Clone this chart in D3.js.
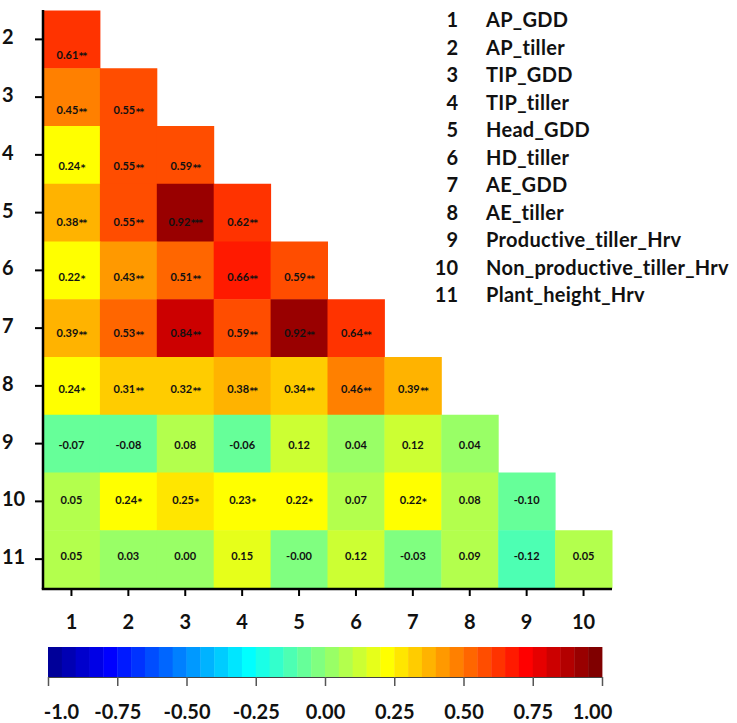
<!DOCTYPE html>
<html>
<head>
<meta charset="utf-8">
<script src="https://cdn.jsdelivr.net/npm/d3@7"></script>
<style>
  body { margin: 0; background: #fff; }
  svg { display: block; font-family: Lato, "Open Sans", sans-serif; }
</style>
</head>
<body>
<div id="chart"></div>
<script>
// Lower triangle of the trait correlation matrix
const rowLabels = [2, 3, 4, 5, 6, 7, 8, 9, 10, 11];
const colLabels = [1, 2, 3, 4, 5, 6, 7, 8, 9, 10];

const traitNames = [
  "AP_GDD", "AP_tiller", "TIP_GDD", "TIP_tiller", "Head_GDD", "HD_tiller",
  "AE_GDD", "AE_tiller", "Productive_tiller_Hrv", "Non_productive_tiller_Hrv",
  "Plant_height_Hrv"
];

// one array per row (row 2 .. row 11), columns 1 .. row-1
const corrValues = [
  [0.61],
  [0.45, 0.55],
  [0.24, 0.55, 0.59],
  [0.38, 0.55, 0.92, 0.62],
  [0.22, 0.43, 0.51, 0.66, 0.59],
  [0.39, 0.53, 0.84, 0.59, 0.92, 0.64],
  [0.24, 0.31, 0.32, 0.38, 0.34, 0.46, 0.39],
  [-0.07, -0.08, 0.08, -0.06, 0.12, 0.04, 0.12, 0.04],
  [0.05, 0.24, 0.25, 0.23, 0.22, 0.07, 0.22, 0.08, -0.10],
  [0.05, 0.03, 0.00, 0.15, -0.001, 0.12, -0.03, 0.09, -0.12, 0.05]
];

const sigStars = [
  ["**"],
  ["**", "**"],
  ["*", "**", "**"],
  ["**", "**", "***", "**"],
  ["*", "**", "**", "**", "**"],
  ["**", "**", "**", "**", "**", "**"],
  ["*", "**", "**", "**", "**", "**", "**"],
  ["", "", "", "", "", "", "", ""],
  ["", "*", "*", "*", "*", "", "*", "", ""],
  ["", "", "", "", "", "", "", "", "", ""]
];

const colorbarTicks = [-1, -0.75, -0.5, -0.25, 0, 0.25, 0.5, 0.75, 1];
const colorbarTickLabels = ["-1.0", "-0.75", "-0.50", "-0.25", "0.00", "0.25", "0.50", "0.75", "1.00"];

// Matlab style jet(m) colormap
function jet(m) {
  const n = Math.ceil(m / 4);
  const u = [];
  for (let i = 1; i <= n; i++) u.push(i / n);
  for (let i = 1; i < n; i++) u.push(1);
  for (let i = n; i >= 1; i--) u.push(i / n);
  const offset = Math.ceil(n / 2) - (m % 4 === 1 ? 1 : 0);
  const r = new Array(m).fill(0), g = new Array(m).fill(0), b = new Array(m).fill(0);
  u.forEach((val, k) => {
    const gi = offset + k + 1;
    const ri = gi + n, bi = gi - n;
    if (gi >= 1 && gi <= m) g[gi - 1] = val;
    if (ri >= 1 && ri <= m) r[ri - 1] = val;
    if (bi >= 1 && bi <= m) b[bi - 1] = val;
  });
  return r.map((_, i) => d3.rgb(r[i] * 255, g[i] * 255, b[i] * 255).formatHex());
}

const width = 737, height = 723;

const svg = d3.select("#chart")
  .append("svg")
  .attr("width", width)
  .attr("height", height);

const color = d3.scaleQuantize().domain([-1, 1]).range(jet(40));

const x = d3.scaleBand().domain(colLabels).range([43, 612]);
const y = d3.scaleBand().domain(rowLabels).range([10.5, 588]);
// the value labels sit on a slightly tighter grid than the cells
const yText = d3.scalePoint().domain(rowLabels).range([53.5, 555]);

const cells = [];
corrValues.forEach((row, i) => {
  row.forEach((v, j) => {
    cells.push({ row: rowLabels[i], col: colLabels[j], value: v, stars: sigStars[i][j] });
  });
});

// Cells
svg.append("g")
  .selectAll("rect")
  .data(cells)
  .enter()
  .append("rect")
  .attr("x", (d) => x(d.col))
  .attr("y", (d) => y(d.row))
  .attr("width", x.bandwidth() + 0.5)
  .attr("height", y.bandwidth() + 0.5)
  .style("fill", (d) => color(d.value));

const labels = svg.append("g")
  .selectAll("text")
  .data(cells)
  .enter()
  .append("text")
  .attr("x", (d) => x(d.col) + x.bandwidth() / 2)
  .attr("y", (d) => yText(d.row))
  .attr("dominant-baseline", "central")
  .style("text-anchor", "middle")
  .style("font-size", "11px")
  .style("font-weight", "bold")
  .style("fill", "#111");

labels.append("tspan").text((d) => d.value.toFixed(2));
labels.append("tspan")
  .attr("dy", "0.3em")
  .attr("dx", 0.5)
  .style("font-family", "'DejaVu Sans', sans-serif")
  .style("font-size", "9px")
  .style("letter-spacing", "-1px")
  .text((d) => d.stars);

// Axes
const yAxis = svg.append("g")
  .attr("transform", "translate(43,0)")
  .call(d3.axisLeft(y).tickSize(8).tickSizeOuter(0).tickFormat(""));

const xAxis = svg.append("g")
  .attr("transform", "translate(0,589)")
  .call(d3.axisBottom(x).tickSize(7).tickSizeOuter(0).tickPadding(19));

[yAxis, xAxis].forEach((a) => {
  a.select(".domain").style("stroke", "#000").style("stroke-width", 2.5);
  a.selectAll(".tick line").style("stroke", "#000").style("stroke-width", 2);
});
xAxis.select(".domain").attr("d", "M41.75,0H612");
yAxis.select(".domain").attr("d", "M0,10H0V589");

xAxis.selectAll(".tick text")
  .style("font-size", "20px")
  .style("font-weight", "bold")
  .style("font-family", "Lato, sans-serif")
  .style("fill", "#111");

// row labels are left aligned at the far left
svg.append("g")
  .selectAll("text")
  .data(rowLabels)
  .enter()
  .append("text")
  .attr("x", 2)
  .attr("y", (d) => y(d) + y.bandwidth() / 2 - 3)
  .attr("dominant-baseline", "central")
  .style("font-size", "20px")
  .style("font-weight", "bold")
  .style("fill", "#111")
  .text((d) => d);

// Trait key
const key = svg.append("g")
  .selectAll("g")
  .data(traitNames)
  .enter()
  .append("g")
  .attr("transform", (d, i) => `translate(0,${27.3 + i * 27.5})`);

key.append("text")
  .attr("x", 458)
  .style("text-anchor", "end")
  .style("font-size", "20px")
  .style("font-weight", "bold")
  .style("fill", "#111")
  .text((d, i) => i + 1);

key.append("text")
  .attr("x", 486)
  .style("font-size", "20px")
  .style("letter-spacing", "0.3px")
  .style("font-weight", "bold")
  .style("fill", "#111")
  .text((d) => d);

// Colour bar
const cb = d3.scaleLinear().domain([-1, 1]).range([48, 602]);

svg.append("g")
  .selectAll("rect")
  .data(color.range())
  .enter()
  .append("rect")
  .attr("x", (d) => cb(color.invertExtent(d)[0]))
  .attr("y", 647)
  .attr("width", (d) => cb(color.invertExtent(d)[1]) - cb(color.invertExtent(d)[0]) + 0.4)
  .attr("height", 30)
  .style("fill", (d) => d);

const cbAxis = svg.append("g")
  .attr("transform", "translate(0,677)")
  .call(
    d3.axisBottom(cb)
      .tickValues(colorbarTicks)
      .tickSize(9)
      .tickSizeOuter(0)
      .tickPadding(19)
      .tickFormat((d, i) => colorbarTickLabels[i])
  );

cbAxis.select(".domain").style("stroke", "#444").style("stroke-width", 1);
cbAxis.selectAll(".tick line").style("stroke", "#555").style("stroke-width", 1.5);
cbAxis.selectAll(".tick text")
  .attr("dx", (d, i) => (i === 0 ? 13 : i === colorbarTicks.length - 1 ? -10 : 0))
  .style("font-size", "20px")
  .style("font-weight", "bold")
  .style("font-family", "Lato, sans-serif")
  .style("fill", "#111");
</script>
</body>
</html>
